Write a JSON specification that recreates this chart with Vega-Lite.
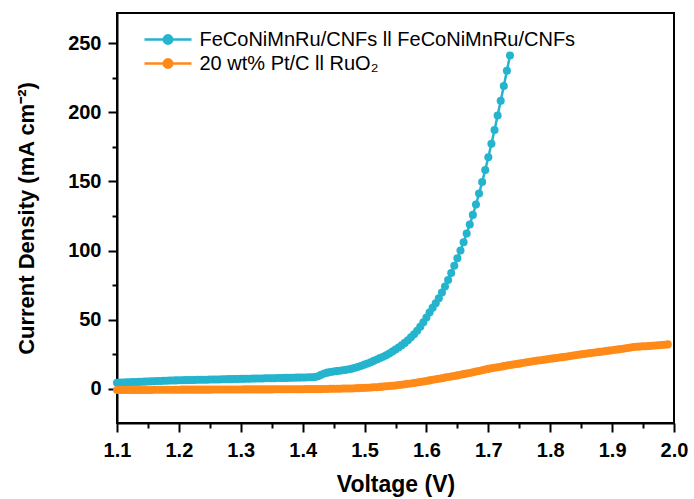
{
"$schema":"https://vega.github.io/schema/vega-lite/v6.json",
"width":557,"height":410,
"autosize":{"type":"none"},
"padding":{"left":117,"top":13,"right":20,"bottom":76},
"background":"white",
"config":{
 "view":{"stroke":"#000","strokeWidth":2},
 "axis":{"grid":false,"domainColor":"#000","domainWidth":2,"tickColor":"#000","tickWidth":2,"labelFont":"Liberation Sans","labelFontWeight":"bold","labelFontSize":20,"labelColor":"#000","titleFont":"Liberation Sans","titleFontWeight":"bold","titleFontSize":22,"titleColor":"#000"}
},
"data":{"values":[
{"V":1.100,"A":4.5,"B":-0.8},{"V":1.105,"A":4.6,"B":-0.8},{"V":1.110,"A":4.7,"B":-0.8},{"V":1.115,"A":4.8,"B":-0.8},{"V":1.120,"A":4.9,"B":-0.7},
{"V":1.125,"A":5.0,"B":-0.7},{"V":1.130,"A":5.0,"B":-0.7},{"V":1.135,"A":5.1,"B":-0.7},{"V":1.140,"A":5.2,"B":-0.7},{"V":1.145,"A":5.3,"B":-0.7},
{"V":1.150,"A":5.4,"B":-0.7},{"V":1.155,"A":5.5,"B":-0.7},{"V":1.160,"A":5.6,"B":-0.6},{"V":1.165,"A":5.7,"B":-0.6},{"V":1.170,"A":5.8,"B":-0.6},
{"V":1.175,"A":5.9,"B":-0.6},{"V":1.180,"A":6.0,"B":-0.6},{"V":1.185,"A":6.1,"B":-0.6},{"V":1.190,"A":6.1,"B":-0.6},{"V":1.195,"A":6.2,"B":-0.6},
{"V":1.200,"A":6.3,"B":-0.6},{"V":1.205,"A":6.3,"B":-0.5},{"V":1.210,"A":6.4,"B":-0.5},{"V":1.215,"A":6.4,"B":-0.5},{"V":1.220,"A":6.5,"B":-0.5},
{"V":1.225,"A":6.5,"B":-0.5},{"V":1.230,"A":6.6,"B":-0.5},{"V":1.235,"A":6.6,"B":-0.5},{"V":1.240,"A":6.7,"B":-0.5},{"V":1.245,"A":6.7,"B":-0.5},
{"V":1.250,"A":6.8,"B":-0.5},{"V":1.255,"A":6.8,"B":-0.4},{"V":1.260,"A":6.9,"B":-0.4},{"V":1.265,"A":6.9,"B":-0.4},{"V":1.270,"A":7.0,"B":-0.4},
{"V":1.275,"A":7.0,"B":-0.4},{"V":1.280,"A":7.1,"B":-0.4},{"V":1.285,"A":7.1,"B":-0.4},{"V":1.290,"A":7.2,"B":-0.4},{"V":1.295,"A":7.2,"B":-0.4},
{"V":1.300,"A":7.3,"B":-0.4},{"V":1.305,"A":7.3,"B":-0.3},{"V":1.310,"A":7.4,"B":-0.3},{"V":1.315,"A":7.4,"B":-0.3},{"V":1.320,"A":7.5,"B":-0.3},
{"V":1.325,"A":7.5,"B":-0.3},{"V":1.330,"A":7.6,"B":-0.3},{"V":1.335,"A":7.6,"B":-0.3},{"V":1.340,"A":7.7,"B":-0.3},{"V":1.345,"A":7.7,"B":-0.3},
{"V":1.350,"A":7.8,"B":-0.3},{"V":1.355,"A":7.8,"B":-0.2},{"V":1.360,"A":7.9,"B":-0.2},{"V":1.365,"A":7.9,"B":-0.2},{"V":1.370,"A":8.0,"B":-0.2},
{"V":1.375,"A":8.0,"B":-0.2},{"V":1.380,"A":8.1,"B":-0.2},{"V":1.385,"A":8.1,"B":-0.2},{"V":1.390,"A":8.2,"B":-0.2},{"V":1.395,"A":8.2,"B":-0.2},
{"V":1.400,"A":8.3,"B":-0.2},{"V":1.405,"A":8.3,"B":-0.1},{"V":1.410,"A":8.4,"B":-0.1},{"V":1.415,"A":8.5,"B":-0.1},{"V":1.420,"A":8.6,"B":-0.1},
{"V":1.425,"A":9.2,"B":-0.1},{"V":1.430,"A":10.2,"B":-0.1},{"V":1.435,"A":11.2,"B":0.0},{"V":1.440,"A":11.8,"B":0.0},{"V":1.445,"A":12.3,"B":0.1},
{"V":1.450,"A":12.6,"B":0.1},{"V":1.455,"A":12.9,"B":0.2},{"V":1.460,"A":13.2,"B":0.2},{"V":1.465,"A":13.5,"B":0.3},{"V":1.470,"A":13.8,"B":0.3},
{"V":1.475,"A":14.2,"B":0.4},{"V":1.480,"A":14.7,"B":0.4},{"V":1.485,"A":15.3,"B":0.5},{"V":1.490,"A":16.0,"B":0.6},{"V":1.495,"A":16.8,"B":0.7},
{"V":1.500,"A":17.6,"B":0.8},{"V":1.505,"A":18.4,"B":0.9},{"V":1.510,"A":19.3,"B":1.0},{"V":1.515,"A":20.3,"B":1.2},{"V":1.520,"A":21.3,"B":1.3},
{"V":1.525,"A":22.3,"B":1.5},{"V":1.530,"A":23.3,"B":1.7},{"V":1.535,"A":24.4,"B":1.9},{"V":1.540,"A":25.6,"B":2.1},{"V":1.545,"A":27.0,"B":2.3},
{"V":1.550,"A":28.5,"B":2.5},{"V":1.555,"A":30.0,"B":2.8},{"V":1.560,"A":31.6,"B":3.1},{"V":1.565,"A":33.3,"B":3.4},{"V":1.570,"A":35.2,"B":3.7},
{"V":1.575,"A":37.3,"B":4.0},{"V":1.580,"A":39.6,"B":4.3},{"V":1.585,"A":42.1,"B":4.7},{"V":1.590,"A":45.0,"B":5.0},{"V":1.595,"A":48.2,"B":5.4},
{"V":1.600,"A":51.6,"B":5.8},{"V":1.605,"A":55.2,"B":6.2},{"V":1.610,"A":58.6,"B":6.6},{"V":1.615,"A":61.9,"B":7.0},{"V":1.620,"A":65.6,"B":7.4},
{"V":1.625,"A":69.7,"B":7.8},{"V":1.630,"A":74.0,"B":8.2},{"V":1.635,"A":78.8,"B":8.6},{"V":1.640,"A":83.8,"B":9.0},{"V":1.645,"A":89.0,"B":9.4},
{"V":1.650,"A":94.4,"B":9.8},{"V":1.655,"A":100.0,"B":10.3},{"V":1.660,"A":106.0,"B":10.7},{"V":1.665,"A":112.3,"B":11.2},{"V":1.670,"A":118.8,"B":11.6},
{"V":1.675,"A":125.8,"B":12.1},{"V":1.680,"A":133.3,"B":12.6},{"V":1.685,"A":141.2,"B":13.0},{"V":1.690,"A":149.5,"B":13.5},{"V":1.695,"A":158.2,"B":14.0},
{"V":1.700,"A":167.5,"B":14.5},{"V":1.705,"A":177.2,"B":14.9},{"V":1.710,"A":187.2,"B":15.3},{"V":1.715,"A":197.6,"B":15.7},{"V":1.720,"A":208.2,"B":16.1},
{"V":1.725,"A":219.0,"B":16.5},{"V":1.730,"A":230.0,"B":16.9},{"V":1.735,"A":241.0,"B":17.3},{"V":1.740,"B":17.6},{"V":1.745,"B":18.0},
{"V":1.750,"B":18.3},{"V":1.755,"B":18.7},{"V":1.760,"B":19.1},{"V":1.765,"B":19.5},{"V":1.770,"B":19.8},
{"V":1.775,"B":20.2},{"V":1.780,"B":20.5},{"V":1.785,"B":20.8},{"V":1.790,"B":21.1},{"V":1.795,"B":21.5},
{"V":1.800,"B":21.8},{"V":1.805,"B":22.1},{"V":1.810,"B":22.4},{"V":1.815,"B":22.7},{"V":1.820,"B":23.0},
{"V":1.825,"B":23.3},{"V":1.830,"B":23.6},{"V":1.835,"B":24.0},{"V":1.840,"B":24.3},{"V":1.845,"B":24.7},
{"V":1.850,"B":25.0},{"V":1.855,"B":25.3},{"V":1.860,"B":25.6},{"V":1.865,"B":25.9},{"V":1.870,"B":26.2},
{"V":1.875,"B":26.5},{"V":1.880,"B":26.8},{"V":1.885,"B":27.1},{"V":1.890,"B":27.4},{"V":1.895,"B":27.7},
{"V":1.900,"B":28.0},{"V":1.905,"B":28.3},{"V":1.910,"B":28.6},{"V":1.915,"B":28.9},{"V":1.920,"B":29.2},
{"V":1.925,"B":29.6},{"V":1.930,"B":30.0},{"V":1.935,"B":30.3},{"V":1.940,"B":30.5},{"V":1.945,"B":30.6},
{"V":1.950,"B":30.8},{"V":1.955,"B":30.9},{"V":1.960,"B":31.1},{"V":1.965,"B":31.2},{"V":1.970,"B":31.4},
{"V":1.975,"B":31.6},{"V":1.980,"B":31.8},{"V":1.985,"B":32.0},{"V":1.990,"B":32.2}
]},
"transform":[{"fold":["A","B"],"as":["s","J"]}],
"layer":[
 {"mark":{"type":"line","strokeWidth":2.5},
  "encoding":{
   "x":{"field":"V","type":"quantitative","scale":{"domain":[1.1,2.0],"nice":false,"zero":false},
        "axis":{"orient":"bottom","values":[1.1,1.2,1.3,1.4,1.5,1.6,1.7,1.8,1.9,2.0],"format":".1f","tickSize":9,"labelPadding":8,"title":"Voltage (V)","titleFontSize":23,"titlePadding":13,"labelFlush":false,"labelOverlap":false}},
   "y":{"field":"J","type":"quantitative","scale":{"domain":[-24.6,271.7],"nice":false,"zero":false},
        "axis":{"orient":"left","values":[0,50,100,150,200,250],"tickSize":9,"labelPadding":7,"title":"Current Density (mA cm⁻²)","titleFontSize":22,"titlePadding":29,"labelFlush":false,"labelOverlap":false}},
   "color":{"field":"s","type":"nominal","scale":{"domain":["A","B"],"range":["#25b4cd","#ff8a17"]},
     "legend":{"title":null,"orient":"none","legendX":39.5,"legendY":15,"padding":0,
       "symbolType":"M-2.35,0L2.35,0M0.42,0A0.42,0.42,0,1,1,-0.42,0A0.42,0.42,0,1,1,0.42,0",
       "symbolSize":400,"symbolStrokeWidth":2.5,"labelFont":"Liberation Sans","labelFontSize":20,"labelFontWeight":"normal","labelColor":"#000","labelOffset":20,"labelLimit":0,"rowPadding":2,
       "labelExpr":"datum.value == 'A' ? 'FeCoNiMnRu/CNFs ll FeCoNiMnRu/CNFs' : '20 wt% Pt/C ll RuO₂'",
       "encode":{"symbols":{"update":{"fill":{"scale":"color","field":"value"},"stroke":{"scale":"color","field":"value"},"opacity":{"value":1}}}}}}
  }},
 {"mark":{"type":"point","filled":true,"size":65,"opacity":1},
  "encoding":{
   "x":{"field":"V","type":"quantitative","axis":null},
   "y":{"field":"J","type":"quantitative","axis":null},
   "color":{"field":"s","type":"nominal"},
   "order":{"field":"s"}
  }},
 {"mark":{"type":"point","opacity":0},
  "encoding":{
   "x":{"field":"V","type":"quantitative","axis":{"orient":"bottom","values":[1.15,1.25,1.35,1.45,1.55,1.65,1.75,1.85,1.95],"tickSize":5,"labels":false,"domain":false,"title":null}},
   "y":{"field":"J","type":"quantitative","axis":{"orient":"left","values":[25,75,125,175,225],"tickSize":5,"labels":false,"domain":false,"title":null}}
  }}
],
"resolve":{"axis":{"x":"independent","y":"independent"}}
}
